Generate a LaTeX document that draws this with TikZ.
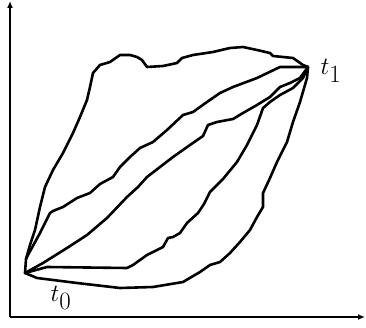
\documentclass[tikz,border=0pt]{standalone}
\usetikzlibrary{arrows.meta}
\begin{document}
\begin{tikzpicture}[x=1pt,y=-1pt,
  pathline/.style={line width=2.6pt,line join=round,line cap=round},
  axisline/.style={line width=2pt,-{Latex[length=7pt,width=6pt]}},
  lbl/.style={inner sep=0pt,font=\fontsize{33}{38}\selectfont}]
\useasboundingbox (0,0) rectangle (366,328);
\coordinate (O) at (10,317);
\coordinate (X) at (365,317);
\coordinate (Y) at (10,1);
\coordinate (t0) at (25,273);
\coordinate (t1) at (308,67);
\coordinate (J) at (26,259);
\draw[axisline] (O) -- (Y);
\draw[axisline] (O) -- (X);
% curve A (outer top)
\draw[pathline] (t0) -- (J) -- (30,245) -- (35,230) -- (40,207) -- (45,187) -- (53,170) -- (63,153) -- (73,133) -- (80,117) -- (87,100) -- (90,87) -- (93,73) -- (100,65) -- (110,62) -- (120,55) -- (130,55) -- (137,57) -- (142,60) -- (147,67) -- (163,66) -- (177,63) -- (182,58) -- (193,55) -- (213,52) -- (230,48) -- (243,47) -- (257,50) -- (270,53) -- (273,56) -- (293,58) -- (303,65) -- (t1);
% curve B
\draw[pathline] (J) -- (28,255) -- (40,233) -- (50,213) -- (53,211) -- (63,207) -- (77,198) -- (90,193) -- (100,184) -- (113,177) -- (120,167) -- (130,157) -- (140,148) -- (153,142) -- (167,130) -- (183,115) -- (193,112) -- (207,102) -- (220,93) -- (233,87) -- (257,78) -- (280,67) -- (t1);
% curve C
\draw[pathline] (t0) -- (43,263) -- (67,248) -- (87,235) -- (107,218) -- (127,197) -- (138,187) -- (147,177) -- (160,167) -- (173,157) -- (190,145) -- (203,136) -- (208,125) -- (217,122) -- (233,119) -- (243,113) -- (257,105) -- (270,97) -- (280,87) -- (290,83) -- (300,78) -- (t1);
% curve D
\draw[pathline] (t0) -- (47,267) -- (127,268) -- (133,265) -- (140,260) -- (147,255) -- (163,247) -- (168,238) -- (173,237) -- (180,233) -- (187,223) -- (198,213) -- (204,204) -- (210,192) -- (223,179) -- (237,162) -- (247,145) -- (257,125) -- (263,108) -- (270,102) -- (280,95) -- (293,88) -- (303,78) -- (t1);
% curve E (outer bottom)
\draw[pathline] (t0) -- (37,278) -- (77,283) -- (120,288) -- (153,287) -- (183,282) -- (200,272) -- (210,265) -- (220,262) -- (230,253) -- (240,242) -- (250,230) -- (257,217) -- (263,207) -- (263,193) -- (270,178) -- (277,162) -- (287,142) -- (293,122) -- (300,102) -- (307,78) -- (t1);
\node[lbl] (L1) at (331,71) {$t_1$};
\node[lbl] (L0) at (61,298) {$t_0$};
\end{tikzpicture}
\end{document}
